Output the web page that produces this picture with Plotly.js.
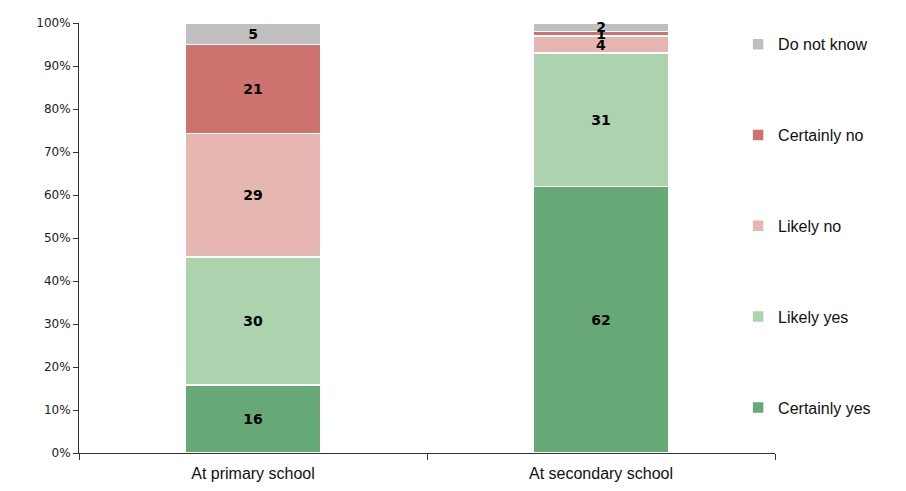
<!DOCTYPE html>
<html>
<head>
<meta charset="utf-8">
<script src="https://cdn.plot.ly/plotly-3.0.1.min.js"></script>
<style>html,body{margin:0;padding:0;background:#fff}#chart{width:906px;height:491px}</style>
</head>
<body>
<div id="chart"></div>
<script>
const categories = ["At primary school", "At secondary school"];
const seriesNames = ["Certainly yes", "Likely yes", "Likely no", "Certainly no", "Do not know"];
const certainlyYes = [16, 62];
const likelyYes = [30, 31];
const likelyNo = [29, 4];
const certainlyNo = [21, 1];
const doNotKnow = [5, 2];
const yTickVals = [0, 10, 20, 30, 40, 50, 60, 70, 80, 90, 100];
const yTickText = ["0%", "10%", "20%", "30%", "40%", "50%", "60%", "70%", "80%", "90%", "100%"];

const seriesValues = [certainlyYes, likelyYes, likelyNo, certainlyNo, doNotKnow];
const colors = ["#67a877", "#acd3ae", "#e6b6b0", "#cd726e", "#c0c0c0"];

const traces = seriesNames.map((name, i) => ({
  type: "bar",
  name: name,
  x: categories,
  y: seriesValues[i],
  text: seriesValues[i].map(String),
  textposition: "inside",
  insidetextanchor: "middle",
  textangle: 0,
  constraintext: "none",
  cliponaxis: false,
  textfont: {family: "DejaVu Sans, Verdana, sans-serif", size: 14, color: "#000", weight: "bold"},
  marker: {color: colors[i], line: {color: "#ffffff", width: 1.5}},
  legendgroup: "g" + i,
  legendrank: 10 - i,
  hoverinfo: "name+y"
}));

const layout = {
  width: 906, height: 491,
  margin: {l: 79, r: 131, t: 23, b: 38},
  paper_bgcolor: "#ffffff", plot_bgcolor: "#ffffff",
  barmode: "stack",
  barnorm: "percent",
  bargap: 0.61,
  uniformtext: {mode: "show", minsize: 14},
  showlegend: true,
  legend: {
    x: 0.947, xanchor: "left", y: 0.99, yanchor: "top",
    traceorder: "grouped", tracegroupgap: 67,
    font: {family: "Liberation Sans, Arial, sans-serif", size: 16, color: "#111"},
    bgcolor: "rgba(0,0,0,0)", itemwidth: 30
  },
  xaxis: {
    showline: true, linecolor: "#333", linewidth: 1,
    ticks: "outside", tickson: "boundaries", ticklen: 6, tickcolor: "#333",
    ticklabelstandoff: 6,
    tickfont: {family: "Liberation Sans, Arial, sans-serif", size: 16, color: "#111"},
    showgrid: false, zeroline: false, fixedrange: true
  },
  yaxis: {
    range: [0, 100], tickvals: yTickVals, ticktext: yTickText,
    showline: true, linecolor: "#333", linewidth: 1,
    ticks: "outside", ticklen: 5, tickcolor: "#333",
    tickfont: {family: "DejaVu Sans, Verdana, sans-serif", size: 12, color: "#222"},
    showgrid: false, zeroline: false, fixedrange: true
  }
};

Plotly.newPlot("chart", traces, layout, {displayModeBar: false, staticPlot: true});
</script>
</body>
</html>
